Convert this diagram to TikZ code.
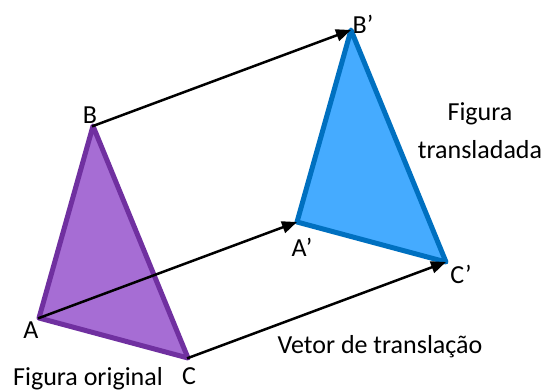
\documentclass[tikz,border=0pt]{standalone}
\usepackage{fontspec}
\setmainfont{Carlito}
\usetikzlibrary{arrows.meta}
\definecolor{trpurple}{HTML}{7030A0}
\definecolor{trlilac}{HTML}{A66DD4}
\definecolor{trblue}{HTML}{0070C0}
\definecolor{trsky}{HTML}{45ABFF}

\begin{document}
\begin{tikzpicture}[
      x=1pt, y=-1pt,
      font=\fontsize{26}{38}\selectfont,
      tri/.style={line width=5pt, line join=round},
      vec/.style={-{Triangle[length=15pt,width=12pt]}, black, line width=2.5pt, shorten <=-1pt},
      lbl/.style={inner sep=0pt, anchor=base},
    ]
    \useasboundingbox (0,0) rectangle (545,391);

    % ---------------- vertices
    \coordinate (A) at (39,318);
    \coordinate (B) at (93,126);
    \coordinate (C) at (188,358);
    \coordinate (A1) at (297,222);
    \coordinate (B1) at (351,30);
    \coordinate (C1) at (446,262);

    % ---------------- triangles
    \draw[tri, draw=trpurple, fill=trlilac] (A) -- (B) -- (C) -- cycle;
    \draw[tri, draw=trblue, fill=trsky] (A1) -- (B1) -- (C1) -- cycle;

    % ---------------- translation vectors
    \draw[vec] (B) -- (B1);
    \draw[vec] (A) -- (A1);
    \draw[vec] (C) -- (C1);

    % ---------------- labels
    \node[lbl] (lA) at (31,338) {A};
    \node[lbl] (lB) at (90,123) {B};
    \node[lbl] (lC) at (189,384) {C};
    \node[lbl] (lA1) at (302,256) {A’};
    \node[lbl] (lB1) at (363,33) {B’};
    \node[lbl] (lC1) at (461,283) {C’};
    \node[lbl] (orig) at (88,385) {Figura original};
    \node[lbl] (vetor) at (380,353) {Vetor de translação};
    \node[inner sep=0pt, align=center] (transl) at (480,131) {Figura\\transladada};
  \end{tikzpicture}
\end{document}
